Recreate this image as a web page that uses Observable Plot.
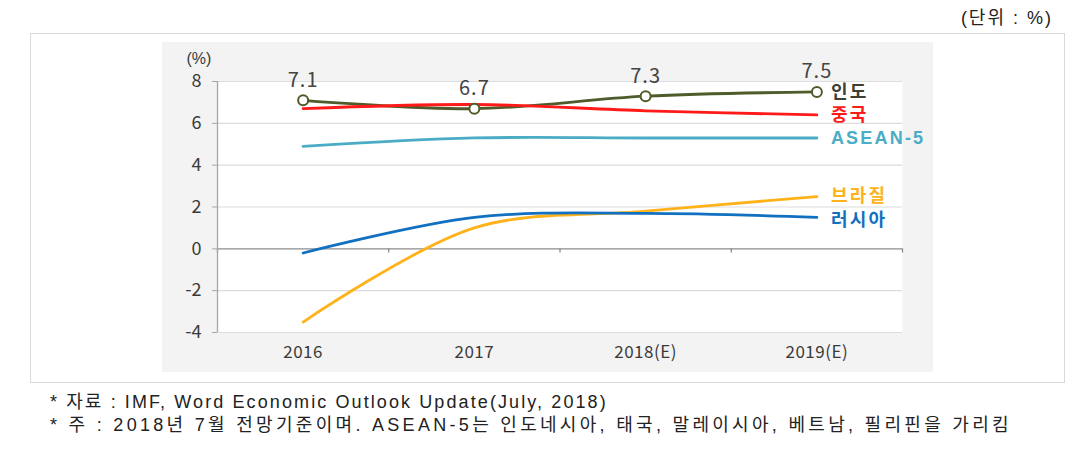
<!DOCTYPE html>
<html>
<head>
<meta charset="utf-8">
<script src="https://cdn.jsdelivr.net/npm/d3@7"></script>
<script src="https://cdn.jsdelivr.net/npm/@observablehq/plot@0.6"></script>
<style>
  html, body { margin: 0; padding: 0; background: #ffffff; }
  body { width: 1077px; height: 457px; position: relative; overflow: hidden; font-family: "Liberation Sans", "Noto Sans CJK KR", sans-serif; }
  #unit { position: absolute; right: 24px; top: 7px; font-size: 18px; letter-spacing: 2px; color: #222; line-height: 22px; }
  #box { position: absolute; left: 30px; top: 33px; width: 1033px; height: 348px; border: 1px solid #d9d9d9; }
  #chart { position: absolute; left: 162px; top: 42px; }
  .note { position: absolute; left: 50px; font-size: 18px; color: #222; white-space: nowrap; line-height: 23px; }
</style>
</head>
<body>
<div id="unit">(단위 : %)</div>
<div id="box"></div>
<div id="chart"></div>
<div class="note" style="top:391px; letter-spacing:2.1px">* 자료 : IMF, Word Economic Outlook Update(July, 2018)</div>
<div class="note" style="top:414px; letter-spacing:3.3px">* 주 : 2018년 7월 전망기준이며. ASEAN-5는 인도네시아, 태국, 말레이시아, 베트남, 필리핀을 가리킴</div>
<script>
const years = ["2016", "2017", "2018(E)", "2019(E)"];
const seriesNames = ["인도", "중국", "ASEAN-5", "브라질", "러시아"];
const india = [7.1, 6.7, 7.3, 7.5];
const china = [6.7, 6.9, 6.6, 6.4];
const asean5 = [4.9, 5.3, 5.3, 5.3];
const brazil = [-3.5, 1.0, 1.8, 2.5];
const russia = [-0.2, 1.5, 1.7, 1.5];
const colors = ["#4e5b2a", "#ff1a1a", "#4bacc6", "#ffb21a", "#1170c0"];
const labelColors = ["#3d3f33", "#ff1a1a", "#4bacc6", "#ffb21a", "#1170c0"];
const yTicks = [-4, -2, 0, 2, 4, 6, 8];

const allValues = [india, china, asean5, brazil, russia];
const rows = [];
allValues.forEach((vals, s) => vals.forEach((v, i) => rows.push({series: seriesNames[s], s, i, year: years[i], value: v})));
const lastRows = rows.filter(d => d.i === years.length - 1);
const indiaRows = rows.filter(d => d.s === 0);
const bounds = d3.range(years.length + 1).map(i => i - 0.5);

const font = "'Noto Sans CJK KR', 'Noto Sans', sans-serif";
const labelFont = "'Liberation Sans', 'Noto Sans CJK KR', sans-serif";

const plot = Plot.plot({
  width: 771,
  height: 330,
  marginLeft: 55,
  marginRight: 31,
  marginTop: 39,
  marginBottom: 40,
  style: {background: "#f3f3f3", fontFamily: font, fontSize: "15px", color: "#3a3a3a", overflow: "visible"},
  x: {type: "linear", domain: [-0.5, years.length - 0.5]},
  y: {domain: [-4, 8]},
  marks: [
    Plot.frame({fill: "white", stroke: "none"}),
    Plot.ruleY(yTicks.filter(t => t !== 0), {stroke: "#dcdcdc", strokeWidth: 1.2}),
    Plot.ruleY([0], {stroke: "#8c8c8c", strokeWidth: 1.3}),
    Plot.ruleX(bounds, {y1: 0, y2: -0.2, stroke: "#8c8c8c", strokeWidth: 1.3}),
    Plot.ruleX([-0.5], {stroke: "#a6a6a6", strokeWidth: 1.3}),
    Plot.axisY({ticks: yTicks, tickFormat: d => String(d), tickSize: 5, tickPadding: 11, stroke: "#a6a6a6", fontSize: 18, label: null, className: "yax"}),
    Plot.axisX({ticks: d3.range(years.length), tickFormat: i => years[i], tickSize: 0, tickPadding: 13, fontSize: 17, label: null, className: "xax"}),
    Plot.text(["(%)"], {frameAnchor: "top-left", lineAnchor: "middle", dx: -31, dy: -23, fontSize: 16, fontFamily: labelFont, fill: "#3a3a3a"}),
    Plot.line(rows, {x: "i", y: "value", z: "series", stroke: d => colors[d.s], strokeWidth: 2.8, curve: "catmull-rom"}),
    Plot.dot(indiaRows, {x: "i", y: "value", r: 5, fill: "white", stroke: colors[0], strokeWidth: 2}),
    Plot.text(indiaRows, {x: "i", y: "value", text: d => d.value.toFixed(1), dy: -20, fontSize: 20, fill: "#444", className: "vals"}),
    Plot.text(lastRows.filter(d => d.s !== 4), {x: "i", y: "value", text: "series", dx: 14, textAnchor: "start", fontSize: 18, fontWeight: 600, fontFamily: labelFont, fill: d => labelColors[d.s], className: "ends"}),
    Plot.text(lastRows.filter(d => d.s === 4), {x: "i", y: "value", text: "series", dx: 14, dy: 3, textAnchor: "start", fontSize: 18, fontWeight: 600, fontFamily: labelFont, fill: d => labelColors[d.s], className: "ends"})
  ]
});
plot.querySelectorAll(".ends text").forEach(t => t.setAttribute("letter-spacing", "2.2"));
plot.querySelectorAll(".vals text").forEach(t => t.setAttribute("letter-spacing", "1"));
plot.querySelectorAll(".xax text").forEach(t => t.setAttribute("letter-spacing", "0.5"));
document.getElementById("chart").appendChild(plot);
</script>
</body>
</html>
